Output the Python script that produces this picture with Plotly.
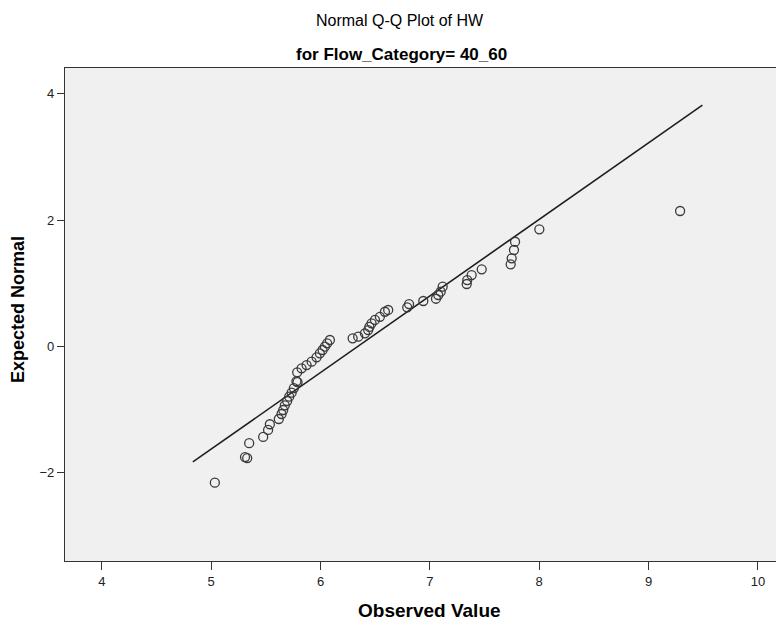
import plotly.graph_objects as go

observed = [5.034, 5.31, 5.33, 5.348, 5.476, 5.521, 5.537, 5.619, 5.644, 5.659,
            5.674, 5.695, 5.714, 5.736, 5.757, 5.78, 5.79, 5.787, 5.827, 5.873,
            5.919, 5.964, 5.994, 6.019, 6.040, 6.061, 6.086, 6.294, 6.345, 6.406,
            6.436, 6.447, 6.467, 6.498, 6.543, 6.589, 6.619, 6.793, 6.81, 6.94,
            7.056, 7.077, 7.099, 7.117, 7.337, 7.342, 7.382, 7.474, 7.739, 7.748,
            7.769, 7.779, 8.001, 9.288]
expected = [-2.155, -1.75, -1.765, -1.53, -1.43, -1.32, -1.23, -1.147, -1.068, -1.005,
            -0.93, -0.862, -0.794, -0.731, -0.657, -0.55, -0.565, -0.408, -0.345, -0.293,
            -0.24, -0.171, -0.108, -0.055, -0.003, 0.05, 0.103, 0.13, 0.155, 0.209,
            0.26, 0.31, 0.367, 0.42, 0.47, 0.55, 0.578, 0.62, 0.672, 0.72,
            0.756, 0.815, 0.867, 0.946, 0.989, 1.052, 1.131, 1.222, 1.30, 1.396,
            1.527, 1.658, 1.854, 2.144]

# Reference line parameters (normal fit) and its x extent
fit_mean = 6.34
fit_sd = 0.825
line_x = [4.833, 9.492]
line_y = [(v - fit_mean) / fit_sd for v in line_x]

x_ticks = [4, 5, 6, 7, 8, 9, 10]
y_ticks = [-2, 0, 2, 4]

fig = go.Figure()
fig.add_trace(go.Scatter(x=line_x, y=line_y, mode="lines",
                         line=dict(color="#1e1e1e", width=1.6),
                         hoverinfo="skip", showlegend=False))
fig.add_trace(go.Scatter(x=observed, y=expected, mode="markers",
                         marker=dict(symbol="circle-open", size=9,
                                     color="#3a3a3a", line=dict(width=1.3)),
                         showlegend=False))

font_main = "Liberation Sans, Arial, sans-serif"
OFF = 8  # page body margin
L, T, B = 65 - OFF, 68 - OFF, 61
W, H = 784 - OFF, 622 - OFF
plot_w = W - L
plot_h = H - T - B


def px_to_paper(px, py):
    px -= OFF
    py -= OFF
    return (px - L) / plot_w, 1 + (T - py) / plot_h


tx, ty = px_to_paper(400, 20)
sx, sy = px_to_paper(401, 55)
xtx, xty = px_to_paper(430, 610)
ytx, yty = px_to_paper(18, 310)

fig.update_layout(
    width=W, height=H,
    margin=dict(l=L, r=0, t=T, b=B),
    paper_bgcolor="white", plot_bgcolor="#f0f0f0",
    font=dict(family=font_main, size=12, color="#222222"),
    showlegend=False,
    annotations=[
        dict(text="Normal Q-Q Plot of HW", x=tx, y=ty, xref="paper", yref="paper",
             xanchor="center", yanchor="middle",
             showarrow=False, font=dict(size=16, color="#000000")),
        dict(text="<b>for Flow_Category= 40_60</b>", x=sx, y=sy, xref="paper", yref="paper",
             xanchor="center", yanchor="middle",
             showarrow=False, font=dict(size=17, color="#000000")),
        dict(text="<b>Observed Value</b>", x=xtx, y=xty, xref="paper", yref="paper",
             xanchor="center", yanchor="middle",
             showarrow=False, font=dict(size=19, color="#000000")),
        dict(text="<b>Expected Normal</b>", x=ytx, y=yty, xref="paper", yref="paper",
             xanchor="center", yanchor="middle", textangle=-90,
             showarrow=False, font=dict(size=18, color="#000000")),
    ],
)

fig.update_xaxes(range=[3.664, 10.238], tickvals=x_ticks, ticks="outside", ticklen=8,
                 tickcolor="#333333", tickwidth=1.3, showgrid=False, zeroline=False,
                 showline=True, linecolor="#333333", linewidth=1.3, mirror=True,
                 tickfont=dict(size=13, color="#222222"))
fig.update_yaxes(range=[-3.394, 4.407], tickvals=y_ticks, ticks="outside", ticklen=7,
                 tickcolor="#333333", tickwidth=1.3, showgrid=False, zeroline=False,
                 showline=True, linecolor="#333333", linewidth=1.3, mirror=False,
                 tickfont=dict(size=13, color="#222222"))

fig.write_html("out.html")
